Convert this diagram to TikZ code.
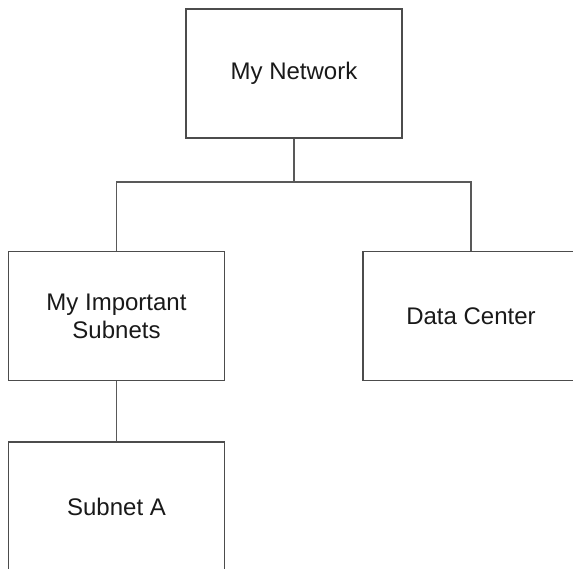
\documentclass[tikz,border=0pt]{standalone}
\usepackage{fontspec}
\setmainfont{Liberation Sans}
\begin{document}
\begin{tikzpicture}[x=1pt,y=-1pt,
  box/.style={draw=black!70, line width=1.3pt, fill=white, minimum width=216pt, minimum height=129pt, inner sep=0pt, align=center, font=\fontsize{24}{28}\selectfont, text=black!90},
  link/.style={draw=black!65, line width=1.3pt}]
\useasboundingbox (0,0) rectangle (573,569);
\begin{scope}
\clip (0,0) rectangle (573,569);
\node[box] (net) at (294,73.5) {My Network};
\node[box] (sub) at (116.5,316) {My Important\\Subnets};
\node[box] (dc) at (471,316) {Data Center};
\node[box] (sa) at (116.5,506.5) {Subnet A};
\coordinate (bus) at (294,182);
\draw[link] (net.south) -- (bus);
\draw[link] (bus) -| (sub.north);
\draw[link] (bus) -| (dc.north);
\draw[link] (sub.south) -- (sa.north);
\end{scope}
\end{tikzpicture}
\end{document}
